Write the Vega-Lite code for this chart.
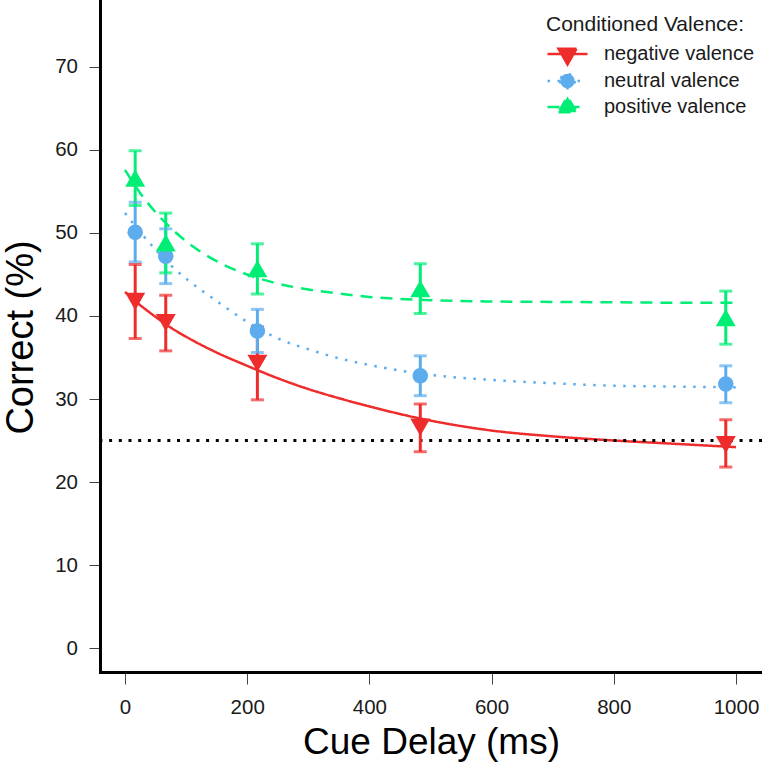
{
  "$schema": "https://vega.github.io/schema/vega-lite/v6.json",
  "width": 662,
  "height": 672,
  "autosize": {"type": "none"},
  "padding": {"left": 100, "top": 0, "right": 0, "bottom": 95},
  "background": "white",
  "config": {
    "view": {"stroke": null},
    "font": "Liberation Sans",
    "axis": {
      "domainColor": "black",
      "domainWidth": 3,
      "domainCap": "square",
      "tickColor": "#444444",
      "tickWidth": 1,
      "grid": false,
      "labelFont": "Liberation Sans",
      "labelFontSize": 20.5,
      "labelColor": "#1a1a1a",
      "labelFlush": false,
      "labelOverlap": false,
      "titleFont": "Liberation Sans",
      "titleFontWeight": "normal",
      "titleColor": "black"
    },
    "axisX": {
      "tickSize": 12,
      "labelPadding": 13,
      "titleFontSize": 37,
      "titleX": 331,
      "titleY": 81,
      "titleAlign": "center",
      "titleBaseline": "alphabetic"
    },
    "axisY": {
      "tickSize": 11,
      "labelPadding": 11.5,
      "titleFontSize": 38,
      "titleX": -68,
      "titleY": 337,
      "titleAngle": 270,
      "titleAlign": "center",
      "titleBaseline": "alphabetic"
    }
  },
  "datasets": {
    "points": [
      {"ms": 16.7, "valence": "negative valence", "mean": 41.75, "lo": 37.3, "hi": 46.2},
      {"ms": 66.7, "valence": "negative valence", "mean": 39.2, "lo": 35.8, "hi": 42.5},
      {"ms": 216.7, "valence": "negative valence", "mean": 34.3, "lo": 29.9, "hi": 38.7},
      {"ms": 483.3, "valence": "negative valence", "mean": 26.6, "lo": 23.65, "hi": 29.4},
      {"ms": 983.3, "valence": "negative valence", "mean": 24.5, "lo": 21.8, "hi": 27.5},
      {"ms": 16.7, "valence": "neutral valence", "mean": 50.1, "lo": 46.5, "hi": 53.7},
      {"ms": 66.7, "valence": "neutral valence", "mean": 47.2, "lo": 43.9, "hi": 50.5},
      {"ms": 216.7, "valence": "neutral valence", "mean": 38.2, "lo": 35.6, "hi": 40.8},
      {"ms": 483.3, "valence": "neutral valence", "mean": 32.8, "lo": 30.4, "hi": 35.2},
      {"ms": 983.3, "valence": "neutral valence", "mean": 31.8, "lo": 29.55, "hi": 34.0},
      {"ms": 16.7, "valence": "positive valence", "mean": 56.6, "lo": 53.3, "hi": 59.9},
      {"ms": 66.7, "valence": "positive valence", "mean": 48.8, "lo": 45.2, "hi": 52.4},
      {"ms": 216.7, "valence": "positive valence", "mean": 45.7, "lo": 42.65, "hi": 48.7},
      {"ms": 483.3, "valence": "positive valence", "mean": 43.3, "lo": 40.3, "hi": 46.3},
      {"ms": 983.3, "valence": "positive valence", "mean": 39.8, "lo": 36.6, "hi": 43.0}
    ],
    "curves": [
      {"ms": 0, "valence": "negative valence", "fit": 42.9},
      {"ms": 25, "valence": "negative valence", "fit": 41.3},
      {"ms": 50, "valence": "negative valence", "fit": 39.9},
      {"ms": 75, "valence": "negative valence", "fit": 38.6},
      {"ms": 100, "valence": "negative valence", "fit": 37.5},
      {"ms": 150, "valence": "negative valence", "fit": 35.6},
      {"ms": 200, "valence": "negative valence", "fit": 34.0},
      {"ms": 250, "valence": "negative valence", "fit": 32.5},
      {"ms": 300, "valence": "negative valence", "fit": 31.2},
      {"ms": 350, "valence": "negative valence", "fit": 30.1},
      {"ms": 400, "valence": "negative valence", "fit": 29.1},
      {"ms": 500, "valence": "negative valence", "fit": 27.4},
      {"ms": 600, "valence": "negative valence", "fit": 26.2},
      {"ms": 700, "valence": "negative valence", "fit": 25.5},
      {"ms": 800, "valence": "negative valence", "fit": 25.0},
      {"ms": 900, "valence": "negative valence", "fit": 24.6},
      {"ms": 1000, "valence": "negative valence", "fit": 24.2},
      {"ms": 0, "valence": "neutral valence", "fit": 52.4},
      {"ms": 25, "valence": "neutral valence", "fit": 50.1},
      {"ms": 50, "valence": "neutral valence", "fit": 48.0},
      {"ms": 75, "valence": "neutral valence", "fit": 46.1},
      {"ms": 100, "valence": "neutral valence", "fit": 44.5},
      {"ms": 150, "valence": "neutral valence", "fit": 41.8},
      {"ms": 200, "valence": "neutral valence", "fit": 39.3},
      {"ms": 250, "valence": "neutral valence", "fit": 37.3},
      {"ms": 300, "valence": "neutral valence", "fit": 36.0},
      {"ms": 350, "valence": "neutral valence", "fit": 34.9},
      {"ms": 400, "valence": "neutral valence", "fit": 34.1},
      {"ms": 500, "valence": "neutral valence", "fit": 32.9},
      {"ms": 600, "valence": "neutral valence", "fit": 32.3},
      {"ms": 700, "valence": "neutral valence", "fit": 31.9},
      {"ms": 800, "valence": "neutral valence", "fit": 31.6},
      {"ms": 900, "valence": "neutral valence", "fit": 31.5},
      {"ms": 1000, "valence": "neutral valence", "fit": 31.4},
      {"ms": 0, "valence": "positive valence", "fit": 57.6},
      {"ms": 25, "valence": "positive valence", "fit": 54.8},
      {"ms": 50, "valence": "positive valence", "fit": 52.5},
      {"ms": 75, "valence": "positive valence", "fit": 50.6},
      {"ms": 100, "valence": "positive valence", "fit": 49.0},
      {"ms": 150, "valence": "positive valence", "fit": 46.6},
      {"ms": 200, "valence": "positive valence", "fit": 45.0},
      {"ms": 250, "valence": "positive valence", "fit": 43.9},
      {"ms": 300, "valence": "positive valence", "fit": 43.2},
      {"ms": 350, "valence": "positive valence", "fit": 42.7},
      {"ms": 400, "valence": "positive valence", "fit": 42.3},
      {"ms": 500, "valence": "positive valence", "fit": 41.9},
      {"ms": 600, "valence": "positive valence", "fit": 41.75},
      {"ms": 700, "valence": "positive valence", "fit": 41.7},
      {"ms": 800, "valence": "positive valence", "fit": 41.65},
      {"ms": 900, "valence": "positive valence", "fit": 41.6},
      {"ms": 1000, "valence": "positive valence", "fit": 41.6}
    ],
    "chance": [{"level": 25}]
  },
  "layer": [
    {
      "data": {"name": "curves"},
      "mark": {"type": "line", "interpolate": "monotone", "strokeWidth": 2.5, "strokeCap": "butt"},
      "encoding": {
        "x": {"field": "ms", "type": "quantitative", "scale": {"domain": [-40.9, 1042.6], "nice": false, "zero": false}, "axis": {"title": "Cue Delay (ms)", "format": "d", "values": [0, 200, 400, 600, 800, 1000]}},
        "y": {"field": "fit", "type": "quantitative", "scale": {"domain": [-2.89, 78.07], "nice": false, "zero": false}, "axis": {"title": "Correct (%)", "format": "d", "values": [0, 10, 20, 30, 40, 50, 60, 70]}},
        "color": {
          "field": "valence",
          "type": "nominal",
          "scale": {"domain": ["negative valence", "neutral valence", "positive valence"], "range": ["#EE2C2C", "#5CACEE", "#00EE76"]},
          "legend": {
            "title": "Conditioned Valence:",
            "orient": "none",
            "legendX": 446,
            "legendY": 13.5,
            "padding": 0,
            "titleFont": "Liberation Sans",
            "titleFontSize": 21,
            "titleFontWeight": "normal",
            "titleColor": "#1a1a1a",
            "titleLimit": 500,
            "titlePadding": 8,
            "labelFont": "Liberation Sans",
            "labelFontSize": 20,
            "labelColor": "#1a1a1a",
            "labelLimit": 500,
            "labelOffset": 25,
            "symbolSize": 400,
            "symbolOffset": 10,
            "symbolOpacity": 1,
            "symbolStrokeWidth": 2.5,
            "rowPadding": -2,
            "encode": {
              "symbols": {
                "update": {
                  "shape": {"signal": "datum.value === 'negative valence' ? 'M-2,0L2,0M-0.9,-0.52L0.9,-0.52L0,1.04Z' : datum.value === 'neutral valence' ? 'M-2,0L2,0M-0.72,0A0.72,0.72,0,1,0,0.72,0A0.72,0.72,0,1,0,-0.72,0Z' : 'M-2,0L2,0M-0.9,0.52L0.9,0.52L0,-1.04Z'"}
                }
              }
            }
          }
        },
        "strokeDash": {"field": "valence", "type": "nominal", "scale": {"domain": ["negative valence", "neutral valence", "positive valence"], "range": [[1, 0], [2.5, 7.5], [12, 8]]}, "legend": null}
      }
    },
    {
      "data": {"name": "chance"},
      "mark": {"type": "rule", "color": "black", "strokeWidth": 3, "strokeDash": [3, 6.7]},
      "encoding": {
        "y": {"field": "level", "type": "quantitative", "axis": {"title": "Correct (%)", "format": "d", "values": [0, 10, 20, 30, 40, 50, 60, 70]}}
      }
    },
    {
      "data": {"name": "points"},
      "mark": {"type": "rule", "strokeWidth": 3},
      "encoding": {
        "x": {"field": "ms", "type": "quantitative", "axis": {"title": "Cue Delay (ms)", "format": "d", "values": [0, 200, 400, 600, 800, 1000]}},
        "y": {"field": "lo", "type": "quantitative", "axis": {"title": "Correct (%)", "format": "d", "values": [0, 10, 20, 30, 40, 50, 60, 70]}},
        "y2": {"field": "hi"},
        "color": {"field": "valence", "type": "nominal"}
      }
    },
    {
      "data": {"name": "points"},
      "mark": {"type": "tick", "orient": "horizontal", "size": 13, "thickness": 3},
      "encoding": {
        "x": {"field": "ms", "type": "quantitative", "axis": {"title": "Cue Delay (ms)", "format": "d", "values": [0, 200, 400, 600, 800, 1000]}},
        "y": {"field": "lo", "type": "quantitative", "axis": {"title": "Correct (%)", "format": "d", "values": [0, 10, 20, 30, 40, 50, 60, 70]}},
        "color": {"field": "valence", "type": "nominal"}
      }
    },
    {
      "data": {"name": "points"},
      "mark": {"type": "tick", "orient": "horizontal", "size": 13, "thickness": 3},
      "encoding": {
        "x": {"field": "ms", "type": "quantitative", "axis": {"title": "Cue Delay (ms)", "format": "d", "values": [0, 200, 400, 600, 800, 1000]}},
        "y": {"field": "hi", "type": "quantitative", "axis": {"title": "Correct (%)", "format": "d", "values": [0, 10, 20, 30, 40, 50, 60, 70]}},
        "color": {"field": "valence", "type": "nominal"}
      }
    },
    {
      "data": {"name": "points"},
      "transform": [{"filter": "datum.valence === 'negative valence'"}],
      "mark": {"type": "point", "shape": "triangle-down", "filled": true, "opacity": 1, "size": 400},
      "encoding": {
        "x": {"field": "ms", "type": "quantitative", "axis": {"title": "Cue Delay (ms)", "format": "d", "values": [0, 200, 400, 600, 800, 1000]}},
        "y": {"field": "mean", "type": "quantitative", "axis": {"title": "Correct (%)", "format": "d", "values": [0, 10, 20, 30, 40, 50, 60, 70]}},
        "color": {"field": "valence", "type": "nominal"}
      }
    },
    {
      "data": {"name": "points"},
      "transform": [{"filter": "datum.valence === 'neutral valence'"}],
      "mark": {"type": "point", "shape": "circle", "filled": true, "opacity": 1, "size": 240},
      "encoding": {
        "x": {"field": "ms", "type": "quantitative", "axis": {"title": "Cue Delay (ms)", "format": "d", "values": [0, 200, 400, 600, 800, 1000]}},
        "y": {"field": "mean", "type": "quantitative", "axis": {"title": "Correct (%)", "format": "d", "values": [0, 10, 20, 30, 40, 50, 60, 70]}},
        "color": {"field": "valence", "type": "nominal"}
      }
    },
    {
      "data": {"name": "points"},
      "transform": [{"filter": "datum.valence === 'positive valence'"}],
      "mark": {"type": "point", "shape": "triangle-up", "filled": true, "opacity": 1, "size": 400},
      "encoding": {
        "x": {"field": "ms", "type": "quantitative", "axis": {"title": "Cue Delay (ms)", "format": "d", "values": [0, 200, 400, 600, 800, 1000]}},
        "y": {"field": "mean", "type": "quantitative", "axis": {"title": "Correct (%)", "format": "d", "values": [0, 10, 20, 30, 40, 50, 60, 70]}},
        "color": {"field": "valence", "type": "nominal"}
      }
    }
  ]
}
